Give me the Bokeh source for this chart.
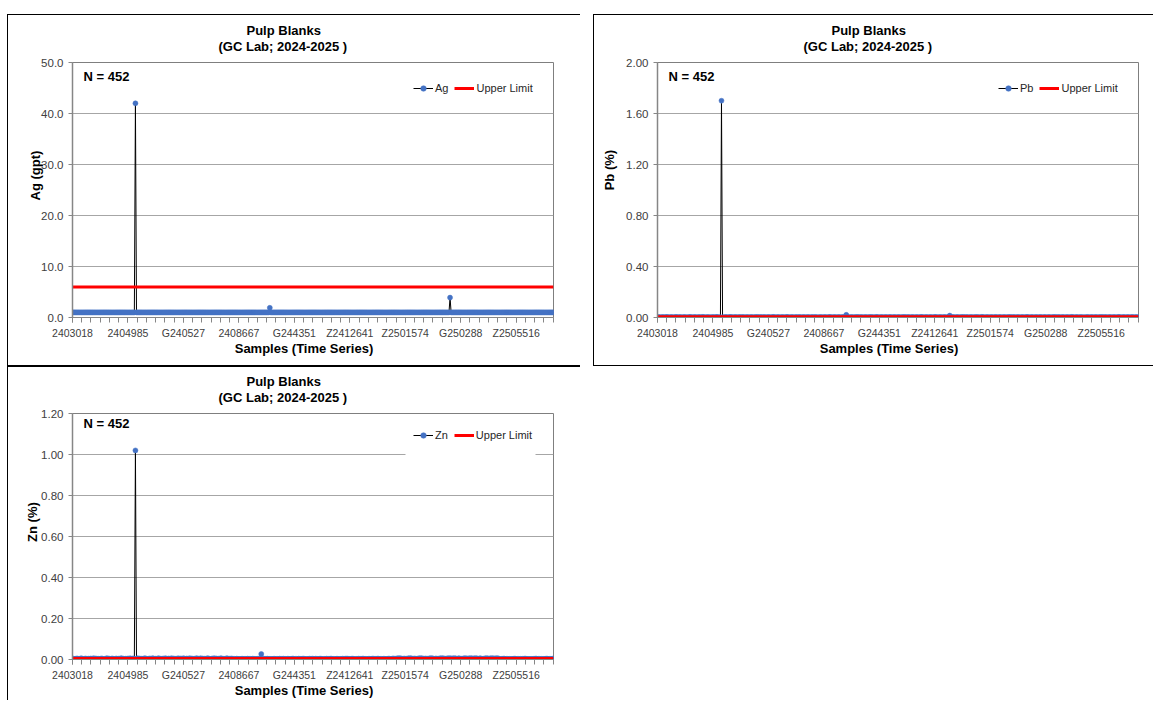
from bokeh.plotting import figure
from bokeh.models import (Range1d, FixedTicker, NumeralTickFormatter, Label,
                          Legend, LegendItem, Spacer, Title, BoxAnnotation)
from bokeh.layouts import column, row
from bokeh.embed import file_html
from bokeh.resources import INLINE

# ---------------- data ----------------
N_SAMPLES = 452
SAMPLE_LABELS = ["2403018", "2404985", "G240527", "2408667", "G244351",
                 "Z2412641", "Z2501574", "G250288", "Z2505516"]
LABEL_POS = [0, 52, 104, 156, 208, 260, 312, 364, 416]

# Ag (gpt): baseline value, plus the visible outliers
AG_BASE = 1.0
AG_SPIKE_IDX = [59, 185, 354]
AG_SPIKE_VAL = [42.0, 1.9, 3.9]
AG_LIMIT = 6.0
AG_TICKS = [0, 10, 20, 30, 40, 50]

# Pb (%): low-level values in thousandths of a percent
PB_DIGITS = ("2321232134" "2123212431" "2321232212" "3421232123" "2143212321"
             "2231243212" "3212321243" "2123212321" "4212321232" "1232412321"
             "3212321234" "2123212321" "2432123212" "3214212321" "2321232141"
             "2123212321" "2432123212" "3212421232" "1232123241" "2321232123"
             "2321243212" "3212321242" "1232123212" "3241232123" "2123212432"
             "1232123212" "4321232123" "2124212321" "2321232412" "3212321232"
             "3212432123" "2123212421" "2321232123" "2412321232" "1232124321"
             "2321232124" "2123212321" "2324123212" "3212321243" "2123212321"
             "2124212321" "2321232412" "3212321232" "1243212321" "2321242123"
             "21")
PB_SPIKE_IDX = [60, 177, 274]
PB_SPIKE_VAL = [1.70, 0.021, 0.015]
PB_LIMIT = 0.005
PB_TICKS = [0.0, 0.4, 0.8, 1.2, 1.6, 2.0]

# Zn (%): low-level values in thousandths of a percent
ZN_DIGITS = ("3423543264" "3253342534" "6352433542" "3364532543" "3524356342"
             "4352634523" "4635243564" "3254365243" "5634253642" "5346352436"
             "2543642534" "6352436542" "6352435642" "3546352436" "5243562435"
             "3332433324" "3332433324" "3322433324" "3334233324" "3332433342"
             "3243334423" "3243334423" "3243343243" "3344233243" "3344233243"
             "3324334443" "3344233243" "3344233243" "3443334423" "3243334423"
             "4534465654" "3534365653" "4534465654" "3534365653" "4534465654"
             "4465654656" "3365343656" "4465654656" "3365343656" "4465654656"
             "3233442332" "3233442332" "3233442332" "3233442332" "3233442332"
             "43")
ZN_SPIKE_IDX = [59, 177]
ZN_SPIKE_VAL = [1.02, 0.027]
ZN_LIMIT = 0.005
ZN_TICKS = [0.0, 0.2, 0.4, 0.6, 0.8, 1.0, 1.2]

TITLE_1 = "Pulp Blanks"
TITLE_2 = "(GC Lab; 2024-2025 )"
N_TEXT = "N = 452"
X_TITLE = "Samples (Time Series)"


def build(base, idx, vals):
    out = list(base)
    for i, v in zip(idx, vals):
        out[i] = v
    return out


ag = build([AG_BASE] * N_SAMPLES, AG_SPIKE_IDX, AG_SPIKE_VAL)
pb = build([int(c) / 1000 for c in PB_DIGITS], PB_SPIKE_IDX, PB_SPIKE_VAL)
zn = build([int(c) / 1000 for c in ZN_DIGITS], ZN_SPIKE_IDX, ZN_SPIKE_VAL)

# ---------------- styling ----------------
FONT = "Liberation Sans"
TXT = "#262626"
AXC = "#868686"
BLUE = "#4472C4"
RED = "#FF0000"
NB = "\u00a0"


def make_chart(values, limit, name, ylabel, ylab_shift, yticks, yfmt, W, H,
               mb_left, mb_right, mb_top, mb_bottom, ylab_standoff, xlab_standoff):
    n = len(values)
    xs = list(range(n))
    p = figure(width=W, height=H, x_range=Range1d(0, n - 1),
               y_range=Range1d(yticks[0], yticks[-1]),
               output_backend="svg", toolbar_location=None,
               min_border_left=mb_left, min_border_right=mb_right,
               min_border_top=mb_top, min_border_bottom=mb_bottom,
               background_fill_color="white", border_fill_color="white",
               outline_line_color="#7f7f7f", outline_line_width=1)
    fh = H - mb_top - mb_bottom
    fw = W - mb_left - mb_right

    # titles: the default title is the outer one, the added one sits next to the frame
    p.title.text = TITLE_1
    p.title.align = "left"
    p.title.offset = 174
    p.title.standoff = -19
    p.title.text_font = FONT
    p.title.text_font_size = "13px"
    p.title.text_font_style = "bold"
    p.title.text_color = "black"
    p.add_layout(Title(text=TITLE_2, align="left", offset=146, standoff=17,
                       text_font=FONT, text_font_size="13px", text_font_style="bold",
                       text_color="black"), "above")

    # grid
    p.xgrid.visible = False
    p.ygrid.grid_line_color = "#a6a6a6"
    p.ygrid.grid_line_width = 1

    # y axis
    p.yaxis.ticker = FixedTicker(ticks=yticks)
    p.yaxis.formatter = NumeralTickFormatter(format=yfmt)
    p.yaxis.axis_line_color = AXC
    p.yaxis.axis_line_width = 1.5
    p.yaxis.major_tick_line_color = AXC
    p.yaxis.major_tick_out = 4
    p.yaxis.major_tick_in = 0
    p.yaxis.minor_tick_line_color = None
    p.yaxis.major_label_standoff = 5
    p.yaxis.major_label_text_font = FONT
    p.yaxis.major_label_text_font_size = "11.5px"
    p.yaxis.major_label_text_color = "#404040"
    p.yaxis.axis_label = NB * ylab_shift + ylabel
    p.yaxis.axis_label_text_font = FONT
    p.yaxis.axis_label_text_font_size = "13px"
    p.yaxis.axis_label_text_font_style = "bold"
    p.yaxis.axis_label_text_color = "black"
    p.yaxis.axis_label_standoff = ylab_standoff

    # x axis
    minor = [k * 52 / 6 for k in range(0, 53) if k * 52 / 6 <= n - 1]
    p.xaxis.ticker = FixedTicker(ticks=LABEL_POS, minor_ticks=minor)
    p.xaxis.major_label_overrides = {pos: lab for pos, lab in zip(LABEL_POS, SAMPLE_LABELS)}
    p.xaxis.axis_line_color = AXC
    p.xaxis.major_tick_line_color = AXC
    p.xaxis.minor_tick_line_color = AXC
    p.xaxis.major_tick_out = 5
    p.xaxis.major_tick_in = 0
    p.xaxis.minor_tick_out = 5
    p.xaxis.minor_tick_in = 0
    p.xaxis.major_label_standoff = 4
    p.xaxis.major_label_text_font = FONT
    p.xaxis.major_label_text_font_size = "10.5px"
    p.xaxis.major_label_text_color = "#404040"
    p.xaxis.axis_label = X_TITLE + NB * 5
    p.xaxis.axis_label_text_font = FONT
    p.xaxis.axis_label_text_font_size = "13px"
    p.xaxis.axis_label_text_font_style = "bold"
    p.xaxis.axis_label_text_color = "black"
    p.xaxis.axis_label_standoff = xlab_standoff

    # white box behind the legend (as in the source chart), placed via the scales
    ymax = yticks[-1]
    xmax = n - 1
    p.add_layout(BoxAnnotation(left=xmax * 333 / fw, right=xmax * 463 / fw,
                               top=ymax * (1 - 10 / fh), bottom=ymax * (1 - 43 / fh),
                               fill_color="white", fill_alpha=1.0, line_color=None,
                               level="underlay"))

    # series
    ln = p.line(xs, values, line_color="black", line_width=1)
    sc = p.scatter(xs, values, size=5, fill_color=BLUE, line_color=BLUE, line_width=0.5)
    lim = p.line(xs, [limit] * n, line_color=RED, line_width=3)

    legend = Legend(items=[LegendItem(label=name, renderers=[ln, sc]),
                           LegendItem(label="Upper Limit", renderers=[lim])],
                    orientation="horizontal", location=(341, fh - 33),
                    border_line_color=None, background_fill_color="white",
                    background_fill_alpha=1.0,
                    label_text_font=FONT, label_text_font_size="11px",
                    label_text_color=TXT,
                    glyph_width=20, glyph_height=14, label_height=14, label_width=10,
                    label_standoff=2, spacing=6, padding=0, margin=0)
    p.add_layout(legend)

    p.add_layout(Label(x=11, y=fh - 14, x_units="screen", y_units="screen", text=N_TEXT,
                       text_font=FONT, text_font_size="13px", text_font_style="bold",
                       text_color="black", text_align="left", text_baseline="middle"))
    return p


def line_box(w, h):
    """A thin black spacer used as a frame border line."""
    return Spacer(width=w, height=h, styles={"background-color": "#000000"})


p_ag = make_chart(ag, AG_LIMIT, "Ag", "Ag (gpt)", 8, AG_TICKS, "0.0",
                  W=572, H=350, mb_left=64, mb_right=27, mb_top=47, mb_bottom=48,
                  ylab_standoff=-5, xlab_standoff=-1)
p_pb = make_chart(pb, PB_LIMIT, "Pb", "Pb (%)", 11, PB_TICKS, "0.00",
                  W=559, H=350, mb_left=63, mb_right=15, mb_top=47, mb_bottom=48,
                  ylab_standoff=6, xlab_standoff=-1)
p_zn = make_chart(zn, ZN_LIMIT, "Zn", "Zn (%)", 8, ZN_TICKS, "0.00",
                  W=572, H=333, mb_left=64, mb_right=27, mb_top=46, mb_bottom=37,
                  ylab_standoff=-2, xlab_standoff=-1)

box_ag = column(line_box(573, 1), row(line_box(1, 350), p_ag), line_box(573, 2))
box_pb = column(line_box(560, 1), row(line_box(1, 350), p_pb), line_box(560, 1))
box_zn = row(line_box(1, 333), p_zn)

layout = column(Spacer(width=10, height=14),
                row(Spacer(width=7, height=10), box_ag, Spacer(width=13, height=10), box_pb),
                row(Spacer(width=7, height=10), box_zn))

open("out.html", "w").write(file_html(layout, INLINE))
